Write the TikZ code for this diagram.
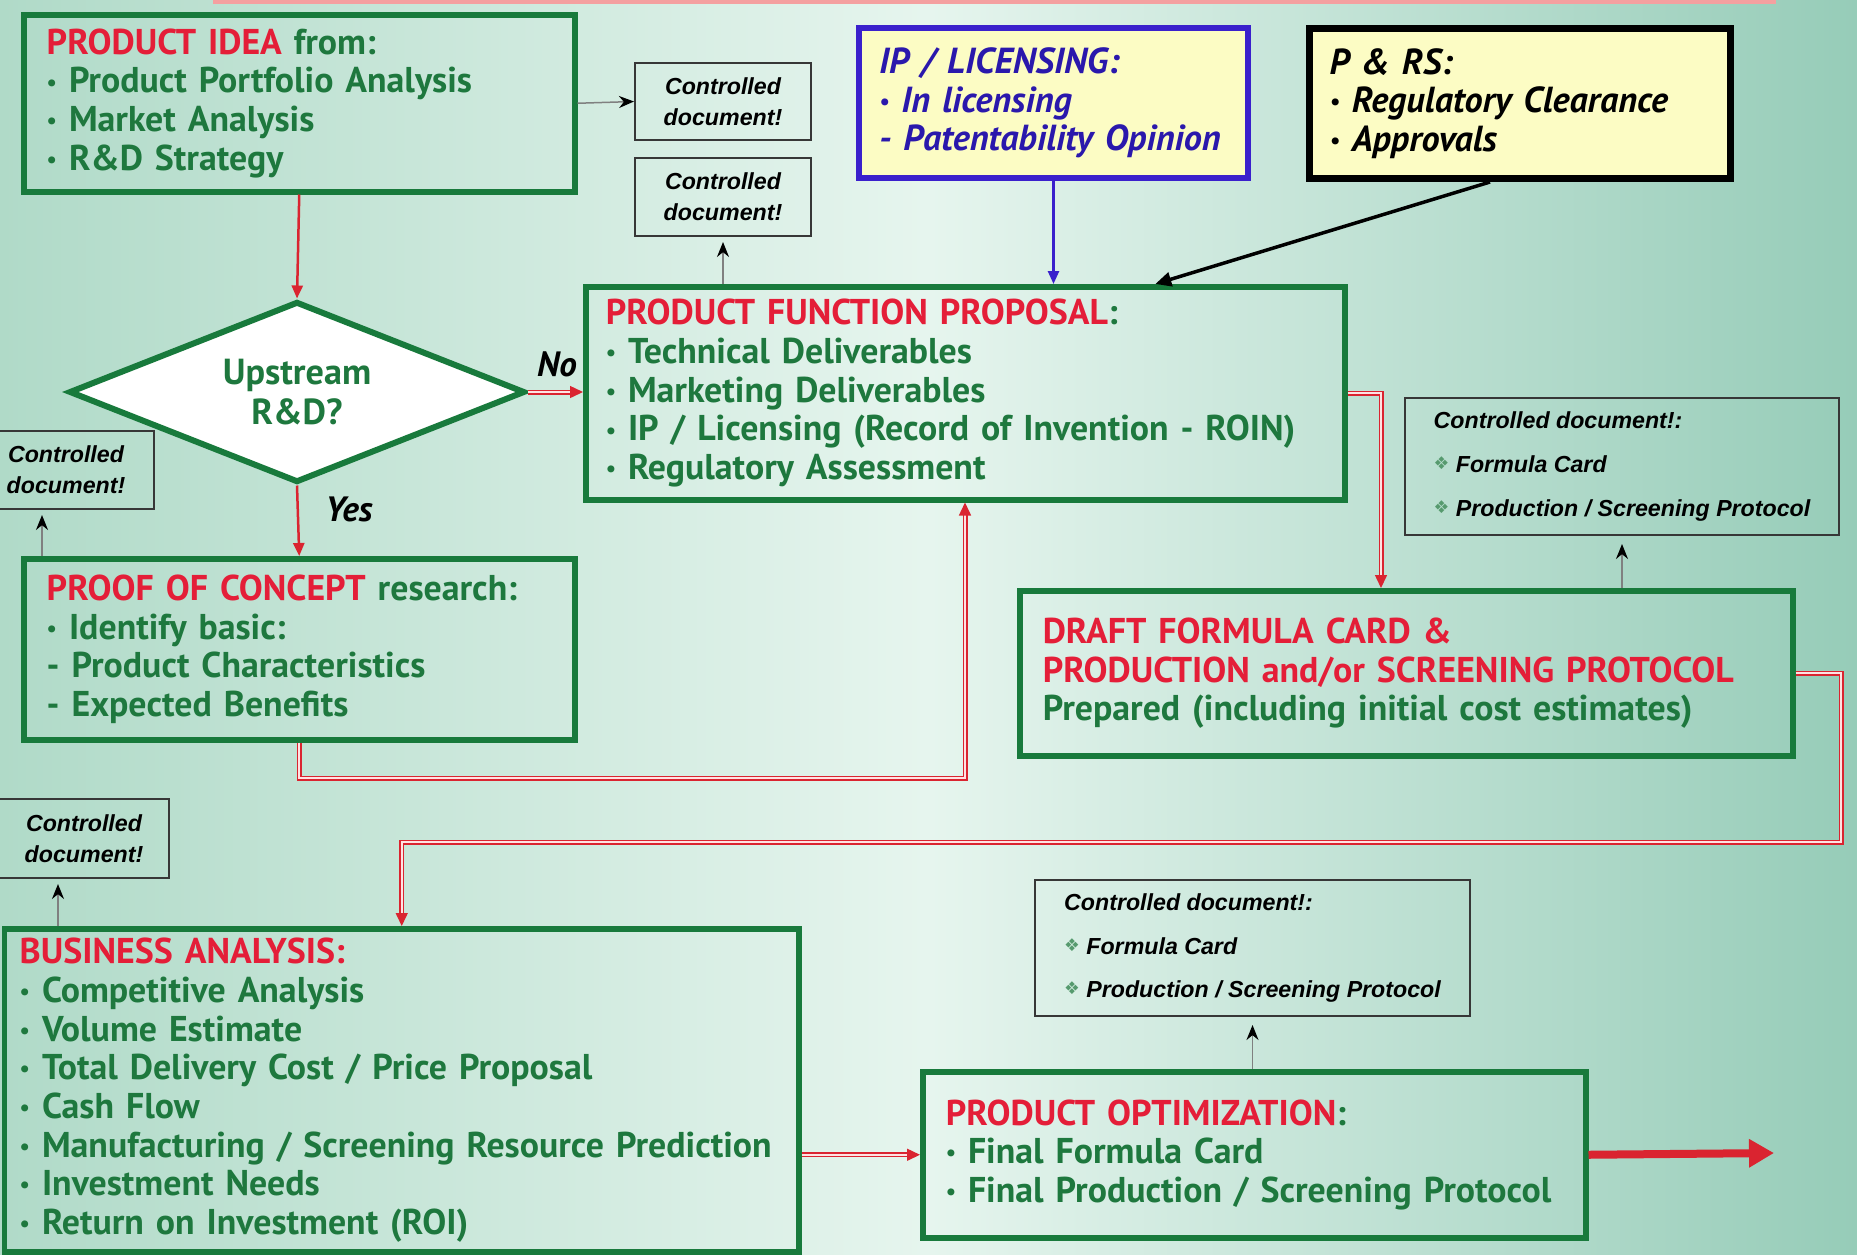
\documentclass[tikz,border=0pt]{standalone}
\usepackage{fontspec}
\setmainfont{PT Sans}
\setsansfont{Liberation Sans}
\newfontfamily\symfont{DejaVu Sans}
\usetikzlibrary{calc,shapes.geometric,arrows.meta}

\definecolor{bgl}{RGB}{176,218,200}
\definecolor{bgm}{RGB}{230,245,238}
\definecolor{bgr}{RGB}{150,204,184}
\definecolor{grn}{RGB}{24,122,60}
\definecolor{tgrn}{RGB}{30,120,62}
\definecolor{hred}{RGB}{228,30,56}
\definecolor{lred}{RGB}{218,36,48}
\definecolor{ipblue}{RGB}{58,32,204}
\definecolor{iptxt}{RGB}{42,24,172}
\definecolor{ylw}{RGB}{252,252,196}
\definecolor{dgray}{RGB}{55,55,55}
\definecolor{pinkbar}{RGB}{244,160,160}

\def\bl{{\fontsize{6.5}{6.5}\selectfont\raisebox{0.25ex}{•}}\ }
\def\dm{{\symfont\color{tgrn!75}\fontsize{5}{5}\selectfont\raisebox{0.3ex}{❖}}\ }

\tikzset{
	stage/.style={draw=grn, line width=0.55mm, anchor=north west, align=left, text=tgrn,
		font=\bfseries\fontsize{10.2}{11}\selectfont, inner xsep=2.3mm, inner ysep=0pt},
	inbox/.style={stage, fill=ylw, inner xsep=2mm, font=\bfseries\itshape\fontsize{10.3}{11}\selectfont},
	docbox/.style={draw=dgray, line width=0.2mm, anchor=north west, align=center, inner sep=0pt,
		font=\sffamily\bfseries\itshape\fontsize{6.6}{8.8}\selectfont},
	doclist/.style={docbox, align=left, font=\sffamily\bfseries\itshape\fontsize{6.6}{12.4}\selectfont},
	flow/.style={draw=lred, line width=0.25mm, -{Triangle[length=1.3mm, width=1.1mm]}},
	dflow/.style={draw=lred, line width=0.15mm, double=white!55!pink, double distance=0.2mm,
		-{Triangle[length=1.3mm, width=1.2mm, fill=lred]}},
	bigflow/.style={draw=lred, line width=0.8mm, -{Triangle[length=2.5mm, width=2.7mm]}},
	docflow/.style={draw=gray, line width=0.15mm, -{Stealth[length=1.5mm, width=1.2mm, black]}},
	lbl/.style={font=\bfseries\itshape\fontsize{10}{11}\selectfont}
}

\begin{document}
\begin{tikzpicture}[x=0.1mm, y=-0.1mm]
		%%%%% START %%%%%
		\useasboundingbox (0,0) rectangle (1857,1254);
		\shade[left color=bgl, right color=bgr, middle color=bgm] (0,0) rectangle (1857,1254);
		\fill[pinkbar] (213,0) rectangle (1776,4);
		
		% input boxes
		\node[stage, text width=50.5mm, minimum height=17.7mm] (idea) at (21,12)
			{\textcolor{hred}{PRODUCT IDEA} from:\\ \bl Product Portfolio Analysis\\ \bl Market Analysis\\ \bl R\&D Strategy};
		\node[inbox, draw=ipblue, line width=0.6mm, text=iptxt, text width=34.9mm, minimum height=15mm] (ip) at (856,25)
			{IP / LICENSING:\\ \bl In licensing\\ - Patentability Opinion};
		\node[inbox, draw=black, line width=0.7mm, text=black, text width=38.1mm, minimum height=15mm] (prs) at (1306,25)
			{P \& RS:\\ \bl Regulatory Clearance\\ \bl Approvals};
		
		% decision
		\node[diamond, draw=grn, line width=0.6mm, fill=white, aspect=2.5, inner sep=0pt,
			minimum width=45.6mm, minimum height=18.1mm, align=center, text=tgrn,
			font=\bfseries\fontsize{10.3}{11.2}\selectfont] (diam) at (297,392) {Upstream\\R\&D?};
		\node[lbl] (no) at (557,364) {No};
		\node[lbl] (yes) at (349,509) {Yes};
		
		% stages
		\node[stage, inner xsep=2mm, text width=71.9mm, minimum height=21.3mm] (pfp) at (583,284)
			{\textcolor{hred}{PRODUCT FUNCTION PROPOSAL}:\\ \bl Technical Deliverables\\ \bl Marketing Deliverables\\
			 \bl IP / Licensing (Record of Invention - ROIN)\\ \bl Regulatory Assessment};
		\node[stage, text width=50.5mm, minimum height=18.1mm] (poc) at (21,556)
			{\textcolor{hred}{PROOF OF CONCEPT} research:\\ \bl Identify basic:\\ - Product Characteristics\\ - Expected Benefits};
		\node[stage, text width=72.7mm, minimum height=16.5mm] (draft) at (1017,588)
			{\textcolor{hred}{DRAFT FORMULA CARD \&}\\ \textcolor{hred}{PRODUCTION and/or SCREENING PROTOCOL}\\
			 Prepared (including initial cost estimates)};
		\node[stage, inner xsep=1.5mm, text width=76.4mm, minimum height=32.3mm] (biz) at (2,926)
			{\textcolor{hred}{BUSINESS ANALYSIS:}\\ \bl Competitive Analysis\\ \bl Volume Estimate\\
			 \bl Total Delivery Cost / Price Proposal\\ \bl Cash Flow\\ \bl Manufacturing / Screening Resource Prediction\\
			 \bl Investment Needs\\ \bl Return on Investment (ROI)};
		\node[stage, text width=61.7mm, minimum height=16.6mm] (opt) at (920,1069)
			{\textcolor{hred}{PRODUCT OPTIMIZATION}:\\ \bl Final Formula Card\\ \bl Final Production / Screening Protocol};
		
		% controlled documents
		\node[docbox, minimum width=17.6mm, minimum height=7.7mm] (ctrla) at (634,62) {Controlled\\document!};
		\node[docbox, minimum width=17.6mm, minimum height=7.8mm] (ctrlb) at (634,157) {Controlled\\document!};
		\node[docbox, minimum width=17.6mm, minimum height=7.8mm] (ctrlc) at (-23,430) {Controlled\\document!};
		\node[docbox, minimum width=17mm, minimum height=7.9mm] (ctrld) at (-2,798) {Controlled\\document!};
		\node[doclist, minimum width=43.4mm, minimum height=13.7mm] (ctrle) at (1404,397)
			{Controlled document!:\\ \dm Formula Card\\ \dm Production / Screening Protocol};
		\node[doclist, minimum width=43.5mm, minimum height=13.6mm] (ctrlf) at (1034,879)
			{Controlled document!:\\ \dm Formula Card\\ \dm Production / Screening Protocol};
		
		% main flow
		\coordinate (pocturn) at (965,778);
		\coordinate (fcturn) at (1381,392);
		\coordinate (bizturn) at (1841,842);
		\coordinate (out) at (1774,1153);
		\draw[flow] (idea.south) -- (diam.north);
		\draw[dflow] (diam.east) -- (diam.east -| pfp.west);
		\draw[flow] (diam.south) -- (poc.north);
		\draw[dflow] (poc.south) |- (pocturn) -- (pocturn |- pfp.south);
		\draw[dflow] (pfp.east) -| (fcturn |- draft.north);
		\draw[dflow] (draft.east) -| (bizturn) -| (biz.north);
		\draw[dflow] (biz.east |- opt.west) -- (opt.west);
		\draw[bigflow] (opt.east) -- (out);
		
		% side inputs
		\draw[draw=ipblue, line width=0.25mm, -{Triangle[length=1.3mm, width=1.1mm]}] (ip.south) -- (ip.south |- pfp.north);
		\draw[draw=black, line width=0.35mm, -{Triangle[length=1.6mm, width=1.4mm]}] ($(prs.south)+(-30,0)$) -- ($(pfp.north)+(190,0)$);
		
		% documents out
		\coordinate (pocfoot) at (42,556);
		\coordinate (bizfoot) at (58,926);
		\draw[docflow] (idea.east) -- (ctrla.west);
		\draw[docflow, shorten >=0.5mm] (ctrlb.south |- pfp.north) -- (ctrlb.south);
		\draw[docflow, shorten >=0.5mm] (pocfoot) -- (pocfoot |- ctrlc.south);
		\draw[docflow, shorten >=0.5mm] (bizfoot) -- (bizfoot |- ctrld.south);
		\draw[docflow, shorten >=0.8mm] (draft.north -| ctrle.south) -- (ctrle.south);
		\draw[docflow, shorten >=0.8mm] (opt.north -| ctrlf.south) -- (ctrlf.south);
		%%%%% END %%%%%
\end{tikzpicture}
\end{document}
